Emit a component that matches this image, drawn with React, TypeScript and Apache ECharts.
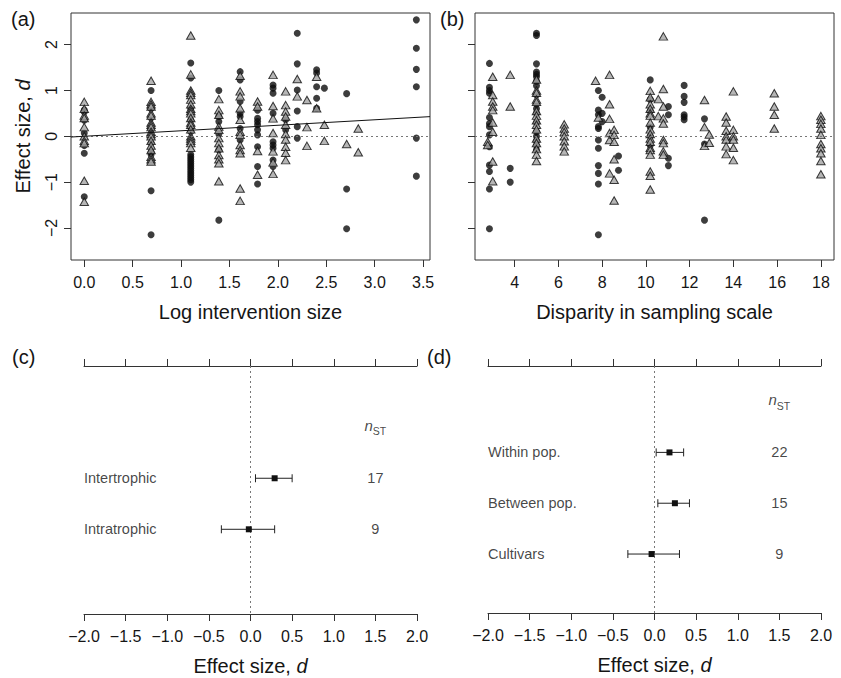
import React, { useEffect, useRef } from "react";
import * as echarts from "echarts";

const FONT = "'Liberation Sans', Arial, Helvetica, sans-serif";
const INK = "#151515";

// ---------- Panel (a): effect size vs log intervention size ----------
// [x, list of y values]
const aCircles: [number, number[]][] = [
  [0, [0.57, 0.53, 0.35, 0.07, -0.2, -0.37, -1.32]],
  [0.69, [1.0, 0.6, 0.4, 0.15, -0.15, -0.35, -0.4, -1.19, -2.15]],
  [1.1, [1.6, 1.27, 0.6, 0.35, 0.2, 0.1, -0.4, -0.45, -0.5, -0.55, -0.6, -0.65, -0.7, -0.75, -0.8, -0.85, -0.9, -0.95, -1.0]],
  [1.39, [1.0, 0.43, 0.32, 0.05, -0.3, -1.83]],
  [1.61, [1.41, 1.23, 0.76, 0.5, 0.43, 0.17, -0.08]],
  [1.79, [0.57, 0.39, 0.32, 0.25, 0.14, 0.03, -0.23, -0.66, -1.04]],
  [1.95, [1.12, 1.05, 0.94, 0.5, -0.12, -0.19, -0.26, -0.52, -0.66]],
  [2.08, [0.36, 0.14]],
  [2.2, [2.25, 1.58, 1.01, 0.55, 0.21, -0.04]],
  [2.4, [1.45, 1.38, 1.08, 0.83, 0.61]],
  [2.48, [1.05]],
  [2.71, [0.93, -1.15, -2.02]],
  [3.43, [2.54, 1.92, 1.46, 1.08, -0.04, -0.87]],
];
const aTriangles: [number, number[]][] = [
  [0, [0.75, 0.6, 0.45, 0.4, 0.2, 0.0, -0.1, -0.15, -0.97, -1.43]],
  [0.69, [1.21, 0.75, 0.7, 0.65, 0.5, 0.45, 0.3, 0.25, 0.2, 0.1, 0.05, 0.0, -0.1, -0.2, -0.3, -0.45, -0.5, -0.55]],
  [1.1, [2.2, 1.35, 1.0, 0.95, 0.9, 0.8, 0.7, 0.6, 0.55, 0.5, 0.4, 0.3, 0.25, 0.15, 0.0, -0.05, -0.1, -0.15, -0.25]],
  [1.39, [0.81, 0.57, 0.47, 0.21, 0.14, -0.04, -0.15, -0.26, -0.41, -0.5, -0.59, -0.98]],
  [1.61, [1.32, 0.98, 0.87, 0.61, 0.36, 0.1, 0.03, -0.19, -0.3, -0.37, -1.14, -1.41]],
  [1.79, [0.76, 0.65, -0.32, -0.84]],
  [1.95, [1.34, 0.66, 0.39, 0.07, -0.33, -0.57, -0.82]],
  [2.08, [0.98, 0.68, 0.54, 0.43, 0.25, 0.05, -0.07, -0.23, -0.36, -0.52]],
  [2.2, [1.25, 0.87]],
  [2.3, [0.79, 0.2, -0.21]],
  [2.4, [1.3, 0.61]],
  [2.48, [0.25, -0.1]],
  [2.71, [-0.17]],
  [2.83, [0.17, -0.35]],
];
const regIntercept = 0.0;
const regSlope = 0.12;
const aXMin = -0.137;
const aXMax = 3.571;
const aXTicks = [0, 0.5, 1, 1.5, 2, 2.5, 3, 3.5];
const aXLabels = ["0.0", "0.5", "1.0", "1.5", "2.0", "2.5", "3.0", "3.5"];

// ---------- Panel (b): effect size vs disparity in sampling scale ----------
const bCircles: [number, number[]][] = [
  [2.85, [1.59, 1.07, 1.0, 0.94, 0.41, 0.28, 0.21, 0.03, -0.23, -0.63, -0.77, -1.15, -2.02]],
  [3.8, [-0.7, -1.0]],
  [5.0, [2.25, 2.2, 1.58, 1.4, 1.35, 1.3, 1.2, 1.1, 0.9, 0.7, 0.6, 0.5, 0.3, 0.1, 0.0, -0.1, -0.2, -0.3]],
  [7.83, [1.0, 0.57, 0.47, 0.21, 0.17, -0.08, -0.26, -0.64, -0.81, -1.04, -2.15]],
  [8.0, [0.85, 0.5, 0.32]],
  [8.75, [-0.43, -0.74]],
  [10.2, [1.23, 0.8, 0.55, 0.2, 0.0, -0.2]],
  [11.03, [0.65, 0.47, -0.48, -0.64]],
  [11.75, [1.11, 0.87, 0.74, 0.47, 0.42, 0.36]],
  [12.68, [0.38, -0.17, -1.83]],
];
const bTriangles: [number, number[]][] = [
  [2.77, [-0.12, -0.19]],
  [3.0, [1.3, 0.9, 0.76, 0.65, 0.57, 0.3, 0.1, -0.55, -0.98]],
  [3.8, [1.34, 0.65]],
  [5.0, [1.24, 1.0, 0.95, 0.8, 0.75, 0.55, 0.45, 0.35, 0.25, 0.15, -0.05, -0.15, -0.28, -0.4, -0.54]],
  [6.27, [0.26, 0.17, 0.09, 0.0, -0.11, -0.22, -0.33]],
  [7.7, [1.21]],
  [7.83, [0.41]],
  [8.34, [1.34, 0.7, 0.38, 0.07, -0.08, -0.81]],
  [8.55, [0.14, 0.03, -0.12, -0.5, -0.95, -1.4]],
  [10.2, [0.99, 0.85, 0.7, 0.6, 0.5, 0.45, 0.3, 0.15, 0.05, -0.05, -0.12, -0.25, -0.3, -0.4, -0.77, -0.86, -1.16]],
  [10.57, [0.81, 0.44]],
  [10.8, [2.18, 1.03, 0.65, 0.39, 0.28, -0.08, -0.15, -0.33, -0.4]],
  [12.68, [0.79, 0.2, -0.21]],
  [12.9, [0.04, -0.14]],
  [13.67, [0.43, 0.3, 0.12, 0.0, -0.07, -0.22, -0.39]],
  [14.0, [0.98, 0.14, 0.0, -0.07, -0.25, -0.52]],
  [15.87, [0.94, 0.65, 0.47, 0.17]],
  [18.0, [0.44, 0.36, 0.27, 0.17, 0.03, -0.17, -0.26, -0.37, -0.54, -0.83]],
];
const bXMin = 2.19;
const bXMax = 18.6;
const bXTicks = [4, 6, 8, 10, 12, 14, 16, 18];
const bXLabels = ["4", "6", "8", "10", "12", "14", "16", "18"];

// shared y of (a),(b)
const yMin = -2.7;
const yMax = 2.69;
const yTicks = [-2, -1, 0, 1, 2];
const yTickLabels = ["\u22122", "\u22121", "0", "1", "2"];

// ---------- Panels (c) and (d): forest plots ----------
const cCategories = ["Intertrophic", "Intratrophic"];
const cMean = [0.29, -0.02];
const cLow = [0.06, -0.35];
const cHigh = [0.5, 0.29];
const cN = [17, 9];

const dCategories = ["Within pop.", "Between pop.", "Cultivars"];
const dMean = [0.18, 0.245, -0.035];
const dLow = [0.02, 0.04, -0.32];
const dHigh = [0.35, 0.42, 0.3];
const dN = [22, 15, 9];

const fTicks = [-2, -1.5, -1, -0.5, 0, 0.5, 1, 1.5, 2];
const fLabels = ["\u22122.0", "\u22121.5", "\u22121.0", "\u22120.5", "0.0", "0.5", "1.0", "1.5", "2.0"];
const nColumnX = 1.5;

const pick = (ticks: number[], labels: string[]) => (v: number) => {
  const i = ticks.findIndex((t) => Math.abs(t - v) < 1e-9);
  return i >= 0 ? labels[i] : "";
};
const flat = (cols: [number, number[]][]) =>
  cols.flatMap(([x, ys]) => ys.map((y) => [x, y]));

export default function App() {
  const ref = useRef<HTMLDivElement>(null);
  useEffect(() => {
    if (!ref.current) return;
    const chart = echarts.init(ref.current, undefined, { renderer: "svg" });

    const tickStyle = { color: "#333", width: 1 };
    const labelStyle = { color: INK, fontSize: 16, fontFamily: FONT };
    const nameStyle = {
      color: INK,
      fontSize: 20,
      fontFamily: FONT,
      rich: { i: { fontStyle: "italic", fontSize: 20, fontFamily: FONT, color: INK } },
    };

    const scatterX = (min: number, max: number, ticks: number[], labels: string[], name: string, gridIndex: number) => ({
      type: "value",
      gridIndex,
      min,
      max,
      name,
      nameLocation: "middle",
      nameGap: 42,
      nameTextStyle: nameStyle,
      axisLine: { show: false, onZero: false },
      axisTick: { show: true, length: 7, lineStyle: tickStyle, customValues: ticks },
      axisLabel: { ...labelStyle, margin: 14, customValues: ticks, formatter: pick(ticks, labels) },
      splitLine: { show: false },
    });
    const scatterY = (gridIndex: number, showLabels: boolean) => ({
      type: "value",
      gridIndex,
      min: yMin,
      max: yMax,
      name: showLabels ? "Effect size, {i|d}" : "",
      nameLocation: "middle",
      nameGap: 38,
      nameTextStyle: nameStyle,
      axisLine: { show: false, onZero: false },
      axisTick: { show: true, length: 7, lineStyle: tickStyle, customValues: yTicks },
      axisLabel: {
        show: showLabels,
        ...labelStyle,
        rotate: 90,
        margin: 12,
        customValues: yTicks,
        formatter: pick(yTicks, yTickLabels),
      },
      splitLine: { show: false },
    });
    const forestX = (gridIndex: number, position: string, withLabels: boolean) => ({
      type: "value",
      gridIndex,
      position,
      min: -2,
      max: 2,
      interval: 0.5,
      name: withLabels ? "Effect size, {i|d}" : "",
      nameLocation: "middle",
      nameGap: 42,
      nameTextStyle: nameStyle,
      axisLine: { show: true, onZero: false, lineStyle: { color: "#333", width: 1 } },
      axisTick: { show: true, length: 7, lineStyle: tickStyle },
      axisLabel: { show: withLabels, ...labelStyle, margin: 14, formatter: pick(fTicks, fLabels) },
      splitLine: { show: false },
    });
    const forestY = (gridIndex: number) => ({
      type: "value",
      gridIndex,
      min: 0,
      max: 4.86,
      inverse: true,
      show: false,
      splitLine: { show: false },
    });

    const zeroLineY = {
      silent: true,
      symbol: "none",
      label: { show: false },
      lineStyle: { color: "#777", type: [2, 3], width: 1 },
      data: [{ yAxis: 0 }],
    };
    const zeroLineX = { ...zeroLineY, data: [{ xAxis: 0 }] };

    const circleSeries = (data: number[][], xi: number, yi: number, withZero: boolean) => ({
      type: "scatter",
      xAxisIndex: xi,
      yAxisIndex: yi,
      data,
      symbol: "circle",
      symbolSize: 7,
      itemStyle: { color: "#0d0d0d" },
      markLine: withZero ? zeroLineY : undefined,
      z: 3,
    });
    const triSeries = (data: number[][], xi: number, yi: number) => ({
      type: "scatter",
      xAxisIndex: xi,
      yAxisIndex: yi,
      data,
      symbol: "triangle",
      symbolSize: [8.5, 7.5],
      itemStyle: { color: "#a4a4a4", borderColor: "#0d0d0d", borderWidth: 1 },
      z: 4,
    });

    const forestBars = (mean: number[], lo: number[], hi: number[], rowStart: number, xi: number, yi: number) => ({
      type: "custom",
      xAxisIndex: xi,
      yAxisIndex: yi,
      data: mean.map((m, i) => [m, lo[i], hi[i], rowStart + i]),
      encode: { x: [0, 1, 2], y: 3 },
      z: 5,
      renderItem: (_p: any, api: any) => {
        const row = api.value(3);
        const pL = api.coord([api.value(1), row]);
        const pH = api.coord([api.value(2), row]);
        const pM = api.coord([api.value(0), row]);
        const st = { stroke: "#222", lineWidth: 1 };
        return {
          type: "group",
          children: [
            { type: "line", shape: { x1: pL[0], y1: pL[1], x2: pH[0], y2: pH[1] }, style: st },
            { type: "line", shape: { x1: pL[0], y1: pL[1] - 4, x2: pL[0], y2: pL[1] + 4 }, style: st },
            { type: "line", shape: { x1: pH[0], y1: pH[1] - 4, x2: pH[0], y2: pH[1] + 4 }, style: st },
            { type: "rect", shape: { x: pM[0] - 3, y: pM[1] - 3, width: 6, height: 6 }, style: { fill: "#111" } },
          ],
        };
      },
    });
    const textSeries = (data: number[][], texts: string[], position: string, xi: number, yi: number, mark?: any) => ({
      type: "scatter",
      xAxisIndex: xi,
      yAxisIndex: yi,
      data,
      symbolSize: 0,
      silent: true,
      itemStyle: { color: "transparent" },
      label: {
        show: true,
        position,
        distance: 0,
        color: INK,
        fontSize: 14.5,
        fontFamily: FONT,
        formatter: (p: any) => texts[p.dataIndex],
        rich: {
          i: { fontStyle: "italic", fontSize: 15, fontFamily: FONT, color: INK, lineHeight: 19, verticalAlign: "top" },
          s: { fontSize: 10.5, fontFamily: FONT, color: INK, lineHeight: 19, verticalAlign: "bottom" },
        },
      },
      markLine: mark,
      z: 6,
    });

    const cRowStart = 2.2;
    const dRowStart = 1.7;

    const option: any = {
      animation: false,
      backgroundColor: "#fff",
      textStyle: { fontFamily: FONT },
      grid: [
        { left: 71, top: 13, width: 359, height: 247, show: true, borderColor: "#333", borderWidth: 1, backgroundColor: "transparent" },
        { left: 475, top: 13, width: 359, height: 247, show: true, borderColor: "#333", borderWidth: 1, backgroundColor: "transparent" },
        { left: 84, top: 366, width: 333, height: 248 },
        { left: 488, top: 366, width: 333, height: 247 },
      ],
      xAxis: [
        scatterX(aXMin, aXMax, aXTicks, aXLabels, "Log intervention size", 0),
        scatterX(bXMin, bXMax, bXTicks, bXLabels, "Disparity in sampling scale", 1),
        forestX(2, "bottom", true),
        forestX(2, "top", false),
        forestX(3, "bottom", true),
        forestX(3, "top", false),
      ],
      yAxis: [scatterY(0, true), scatterY(1, false), forestY(2), forestY(3)],
      series: [
        circleSeries(flat(aCircles), 0, 0, true),
        triSeries(flat(aTriangles), 0, 0),
        {
          type: "line",
          xAxisIndex: 0,
          yAxisIndex: 0,
          data: [
            [aXMin, regIntercept + regSlope * aXMin],
            [aXMax, regIntercept + regSlope * aXMax],
          ],
          showSymbol: false,
          symbol: "none",
          lineStyle: { color: "#111", width: 1 },
          z: 5,
          silent: true,
        },
        circleSeries(flat(bCircles), 1, 1, true),
        triSeries(flat(bTriangles), 1, 1),
        forestBars(cMean, cLow, cHigh, cRowStart, 2, 2),
        textSeries(cCategories.map((_, i) => [-2, cRowStart + i]), cCategories, "right", 2, 2, zeroLineX),
        textSeries(
          [[nColumnX, cRowStart - 1], ...cN.map((_, i) => [nColumnX, cRowStart + i])],
          ["{i|n}{s|ST}", ...cN.map(String)],
          "inside",
          2,
          2
        ),
        forestBars(dMean, dLow, dHigh, dRowStart, 4, 3),
        textSeries(dCategories.map((_, i) => [-2, dRowStart + i]), dCategories, "right", 4, 3, zeroLineX),
        textSeries(
          [[nColumnX, dRowStart - 1], ...dN.map((_, i) => [nColumnX, dRowStart + i])],
          ["{i|n}{s|ST}", ...dN.map(String)],
          "inside",
          4,
          3
        ),
      ],
      graphic: [
        { type: "text", left: 11, top: 9, style: { text: "(a)", fontSize: 20, fontFamily: FONT, fill: INK } },
        { type: "text", left: 440, top: 9, style: { text: "(b)", fontSize: 20, fontFamily: FONT, fill: INK } },
        { type: "text", left: 12, top: 347, style: { text: "(c)", fontSize: 20, fontFamily: FONT, fill: INK } },
        { type: "text", left: 427, top: 347, style: { text: "(d)", fontSize: 20, fontFamily: FONT, fill: INK } },
      ],
    };
    chart.setOption(option);
    return () => chart.dispose();
  }, []);
  return (
    <div
      ref={ref}
      style={{ position: "fixed", left: 0, top: 0, width: 841, height: 678, background: "#fff" }}
    />
  );
}
